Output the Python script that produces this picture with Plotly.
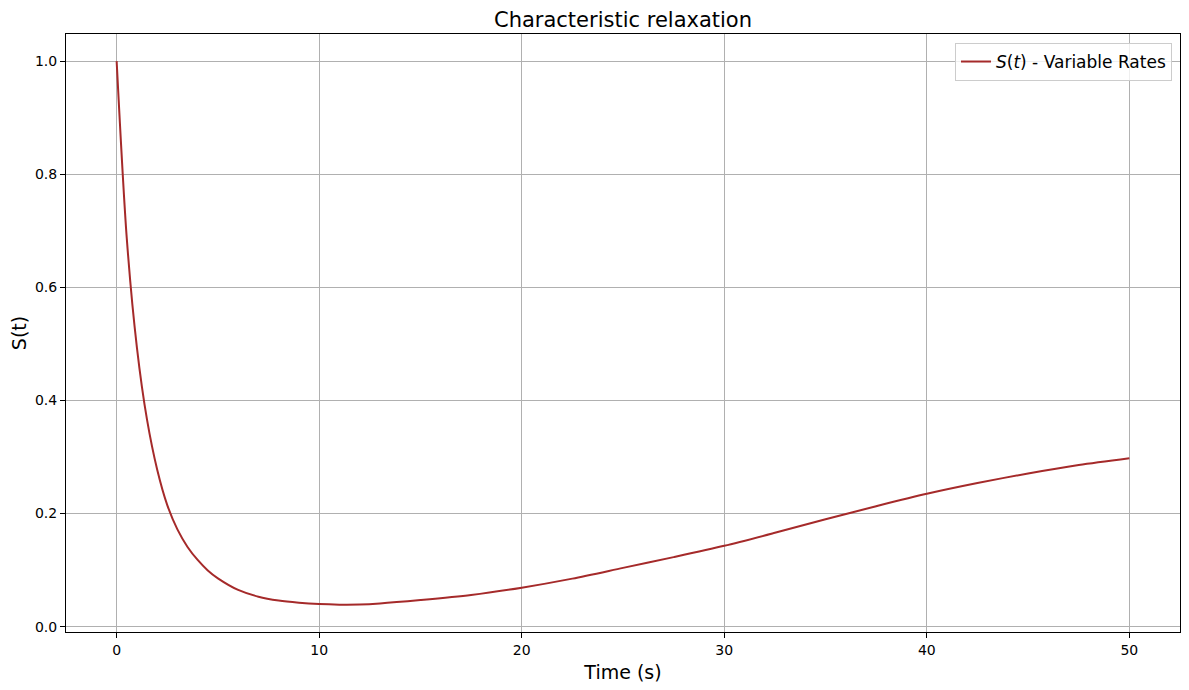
import plotly.graph_objects as go

time_s = [0, 0.5, 1.0, 1.5, 2.0, 2.5, 3.0, 3.5, 4.0, 4.5, 5.0, 6.0, 7.0, 8.0,
          9.0, 10, 11, 12, 13, 15, 17.5, 20, 22.5, 25, 27.5, 30, 32.5, 35, 37.5, 40,
          42.5, 45, 47.5, 50]
signal = [1.0, 0.687, 0.494, 0.366, 0.278, 0.215, 0.172, 0.141, 0.118, 0.0995, 0.0855,
          0.0650, 0.0530, 0.0462, 0.0424, 0.0400, 0.0390, 0.0392, 0.0410, 0.047, 0.056,
          0.069, 0.085, 0.104, 0.123, 0.143, 0.166, 0.19, 0.213, 0.235, 0.254, 0.271,
          0.286, 0.298]
x_ticks = [0, 10, 20, 30, 40, 50]
y_ticks = [0.0, 0.2, 0.4, 0.6, 0.8, 1.0]

FONT = "DejaVu Sans"
W, H = 1181, 682  # page body adds an 8px margin

fig = go.Figure()
fig.add_trace(go.Scatter(
    x=time_s, y=signal, mode="lines",
    line=dict(color="#A52A2A", width=2, shape="spline", smoothing=0.8),
    name="<i>S</i>(<i>t</i>) - Variable Rates",
))

axis_common = dict(
    showgrid=True, gridcolor="#b0b0b0", gridwidth=1,
    showline=True, linecolor="black", linewidth=1, mirror=True,
    ticks="outside", ticklen=5, tickcolor="black", tickwidth=1,
    zeroline=False, automargin=False,
    tickfont=dict(family=FONT, size=14, color="black"),
)

fig.update_layout(
    width=W, height=H,
    margin=dict(l=58, r=9, t=26, b=58),
    paper_bgcolor="white", plot_bgcolor="white",
    title=dict(text="Characteristic relaxation", x=0.5, xref="paper", xanchor="center",
               y=1 - 12 / H, yref="container", yanchor="middle",
               font=dict(family=FONT, size=21, color="black")),
    xaxis=dict(range=[-2.5, 52.5], tickvals=x_ticks, ticktext=[str(v) for v in x_ticks],
               title=dict(text="Time (s)", font=dict(family=FONT, size=19, color="black"),
                          standoff=8),
               **axis_common),
    yaxis=dict(range=[-0.0094, 1.048], tickvals=y_ticks,
               ticktext=[f"{v:.1f}" for v in y_ticks],
               title=dict(text="S(t)", font=dict(family=FONT, size=19, color="black"),
                          standoff=4),
               **axis_common),
    legend=dict(x=0.9928, y=0.985, xanchor="right", yanchor="top",
                bgcolor="rgba(255,255,255,0.8)", bordercolor="#cccccc", borderwidth=1,
                font=dict(family=FONT, size=17, color="black")),
    showlegend=True,
)

fig.write_html("out.html")
